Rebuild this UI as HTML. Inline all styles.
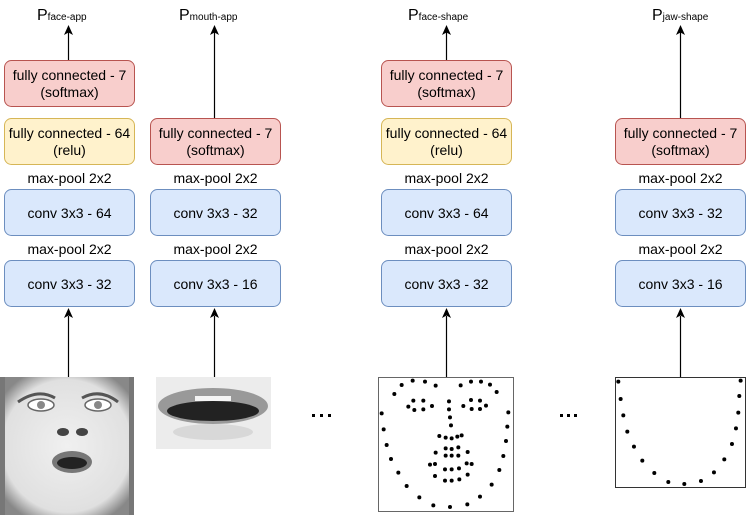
<!DOCTYPE html>
<html><head><meta charset="utf-8"><style>
html,body{margin:0;padding:0;background:#fff;}
svg{display:block;font-family:"Liberation Sans",Arial,sans-serif;}
</style></head><body>
<svg width="747" height="515" viewBox="0 0 747 515" xmlns="http://www.w3.org/2000/svg">
<defs>
<radialGradient id="fg" cx="0.5" cy="0.5" r="0.6"><stop offset="0" stop-color="#f0f0f0"/><stop offset="0.8" stop-color="#e0e0e0"/><stop offset="1" stop-color="#888"/></radialGradient>
</defs>
<g font-size="14" text-anchor="middle" fill="#000">
<rect x="4.5" y="60.5" width="130" height="46" rx="7" fill="#f8cecc" stroke="#b85450"/>
<text x="69.5" y="80">fully connected - 7</text><text x="69.5" y="97">(softmax)</text>
<rect x="4.5" y="118.5" width="130" height="46" rx="7" fill="#fff2cc" stroke="#d6b656"/>
<text x="69.5" y="138">fully connected - 64</text><text x="69.5" y="155">(relu)</text>
<text x="69.5" y="183">max-pool 2x2</text>
<rect x="4.5" y="189.5" width="130" height="46" rx="7" fill="#dae8fc" stroke="#6c8ebf"/>
<text x="69.5" y="218">conv 3x3 - 64</text>
<text x="69.5" y="254">max-pool 2x2</text>
<rect x="4.5" y="260.5" width="130" height="46" rx="7" fill="#dae8fc" stroke="#6c8ebf"/>
<text x="69.5" y="289">conv 3x3 - 32</text>
<rect x="150.5" y="118.5" width="130" height="46" rx="7" fill="#f8cecc" stroke="#b85450"/>
<text x="215.5" y="138">fully connected - 7</text><text x="215.5" y="155">(softmax)</text>
<text x="215.5" y="183">max-pool 2x2</text>
<rect x="150.5" y="189.5" width="130" height="46" rx="7" fill="#dae8fc" stroke="#6c8ebf"/>
<text x="215.5" y="218">conv 3x3 - 32</text>
<text x="215.5" y="254">max-pool 2x2</text>
<rect x="150.5" y="260.5" width="130" height="46" rx="7" fill="#dae8fc" stroke="#6c8ebf"/>
<text x="215.5" y="289">conv 3x3 - 16</text>
<rect x="381.5" y="60.5" width="130" height="46" rx="7" fill="#f8cecc" stroke="#b85450"/>
<text x="446.5" y="80">fully connected - 7</text><text x="446.5" y="97">(softmax)</text>
<rect x="381.5" y="118.5" width="130" height="46" rx="7" fill="#fff2cc" stroke="#d6b656"/>
<text x="446.5" y="138">fully connected - 64</text><text x="446.5" y="155">(relu)</text>
<text x="446.5" y="183">max-pool 2x2</text>
<rect x="381.5" y="189.5" width="130" height="46" rx="7" fill="#dae8fc" stroke="#6c8ebf"/>
<text x="446.5" y="218">conv 3x3 - 64</text>
<text x="446.5" y="254">max-pool 2x2</text>
<rect x="381.5" y="260.5" width="130" height="46" rx="7" fill="#dae8fc" stroke="#6c8ebf"/>
<text x="446.5" y="289">conv 3x3 - 32</text>
<rect x="615.5" y="118.5" width="130" height="46" rx="7" fill="#f8cecc" stroke="#b85450"/>
<text x="680.5" y="138">fully connected - 7</text><text x="680.5" y="155">(softmax)</text>
<text x="680.5" y="183">max-pool 2x2</text>
<rect x="615.5" y="189.5" width="130" height="46" rx="7" fill="#dae8fc" stroke="#6c8ebf"/>
<text x="680.5" y="218">conv 3x3 - 32</text>
<text x="680.5" y="254">max-pool 2x2</text>
<rect x="615.5" y="260.5" width="130" height="46" rx="7" fill="#dae8fc" stroke="#6c8ebf"/>
<text x="680.5" y="289">conv 3x3 - 16</text>
</g>
<g font-size="16">
<text x="37" y="20">P<tspan font-size="10">face-app</tspan></text>
<text x="179" y="20">P<tspan font-size="10">mouth-app</tspan></text>
<text x="408" y="20">P<tspan font-size="10">face-shape</tspan></text>
<text x="652" y="20">P<tspan font-size="10">jaw-shape</tspan></text>
</g>
<g stroke="#000" stroke-width="1.2" fill="none">
<line x1="68.5" y1="60" x2="68.5" y2="32"/>
<line x1="214.5" y1="118" x2="214.5" y2="32"/>
<line x1="446.5" y1="60" x2="446.5" y2="32"/>
<line x1="680.5" y1="118" x2="680.5" y2="32"/>
<line x1="68.5" y1="377" x2="68.5" y2="316"/>
<line x1="214.5" y1="377" x2="214.5" y2="316"/>
<line x1="446.5" y1="377" x2="446.5" y2="316"/>
<line x1="680.5" y1="377" x2="680.5" y2="316"/>
</g>
<g fill="#000">
<path d="M68.5,25 L73,35 L68.5,32.5 L64,35 Z"/>
<path d="M214.5,25 L219,35 L214.5,32.5 L210,35 Z"/>
<path d="M446.5,25 L451,35 L446.5,32.5 L442,35 Z"/>
<path d="M680.5,25 L685,35 L680.5,32.5 L676,35 Z"/>
<path d="M68.5,308 L73,318 L68.5,315.5 L64,318 Z"/>
<path d="M214.5,308 L219,318 L214.5,315.5 L210,318 Z"/>
<path d="M446.5,308 L451,318 L446.5,315.5 L442,318 Z"/>
<path d="M680.5,308 L685,318 L680.5,315.5 L676,318 Z"/>
</g>
<rect x="0" y="377" width="134" height="138" fill="url(#fg)"/>
<rect x="0" y="377" width="5" height="138" fill="#777"/><rect x="129" y="377" width="5" height="138" fill="#777"/>
<path d="M18,402 Q38,388 55,398" stroke="#555" stroke-width="3" fill="none"/>
<path d="M82,398 Q100,388 118,402" stroke="#555" stroke-width="3" fill="none"/>
<ellipse cx="41" cy="405" rx="13" ry="6" fill="#fff" stroke="#666" stroke-width="1.5"/><circle cx="41" cy="405" r="4" fill="#888"/>
<ellipse cx="98" cy="405" rx="13" ry="6" fill="#fff" stroke="#666" stroke-width="1.5"/><circle cx="98" cy="405" r="4" fill="#888"/>
<ellipse cx="63" cy="432" rx="6" ry="4" fill="#444"/><ellipse cx="82" cy="432" rx="6" ry="4" fill="#444"/>
<ellipse cx="72" cy="462" rx="20" ry="11" fill="#777"/><ellipse cx="72" cy="463" rx="15" ry="6" fill="#222"/>
<rect x="156" y="377" width="115" height="72" fill="#ececec"/>
<ellipse cx="213" cy="406" rx="55" ry="18" fill="#999"/>
<ellipse cx="213" cy="411" rx="46" ry="10" fill="#222"/>
<rect x="195" y="396" width="36" height="5" fill="#f4f4f4"/>
<ellipse cx="213" cy="432" rx="40" ry="8" fill="#ccc" opacity="0.6"/>
<g fill="#000"><rect x="312" y="414" width="3" height="3"/><rect x="320" y="414" width="3" height="3"/><rect x="328" y="414" width="3" height="3"/>
<rect x="560" y="414" width="3" height="3"/><rect x="567" y="414" width="3" height="3"/><rect x="574" y="414" width="3" height="3"/></g>
<rect x="378.5" y="377.5" width="135" height="134" fill="#fff" stroke="#666"/>
<rect x="615.5" y="377.5" width="130" height="110" fill="#fff" stroke="#333"/>
<g transform="translate(370,360) scale(0.3333)" fill="#000">
<circle cx="95" cy="75" r="6"/><circle cx="128" cy="62" r="6"/><circle cx="165" cy="65" r="6"/><circle cx="197" cy="77" r="6"/><circle cx="272" cy="76" r="6"/><circle cx="303" cy="65" r="6"/><circle cx="333" cy="65" r="6"/><circle cx="360" cy="74" r="6"/><circle cx="73" cy="102" r="6"/><circle cx="380" cy="96" r="6"/>
<circle cx="130" cy="122" r="6"/><circle cx="160" cy="122" r="6"/><circle cx="115" cy="140" r="6"/><circle cx="133" cy="150" r="6"/><circle cx="160" cy="148" r="6"/><circle cx="186" cy="138" r="6"/><circle cx="237" cy="124" r="6"/><circle cx="237" cy="148" r="6"/><circle cx="303" cy="120" r="6"/><circle cx="330" cy="122" r="6"/><circle cx="280" cy="138" r="6"/><circle cx="305" cy="147" r="6"/><circle cx="330" cy="147" r="6"/><circle cx="348" cy="137" r="6"/>
<circle cx="35" cy="160" r="6"/><circle cx="415" cy="157" r="6"/><circle cx="240" cy="172" r="6"/><circle cx="243" cy="196" r="6"/><circle cx="41" cy="208" r="6"/><circle cx="412" cy="200" r="6"/><circle cx="208" cy="228" r="6"/><circle cx="227" cy="233" r="6"/><circle cx="245" cy="235" r="6"/><circle cx="262" cy="230" r="6"/><circle cx="275" cy="226" r="6"/><circle cx="50" cy="255" r="6"/><circle cx="408" cy="243" r="6"/>
<circle cx="227" cy="265" r="6"/><circle cx="245" cy="267" r="6"/><circle cx="265" cy="262" r="6"/><circle cx="197" cy="278" r="6"/><circle cx="293" cy="276" r="6"/><circle cx="227" cy="287" r="6"/><circle cx="245" cy="287" r="6"/><circle cx="265" cy="287" r="6"/><circle cx="63" cy="297" r="6"/><circle cx="400" cy="288" r="6"/>
<circle cx="180" cy="314" r="6"/><circle cx="195" cy="312" r="6"/><circle cx="290" cy="310" r="6"/><circle cx="305" cy="312" r="6"/><circle cx="225" cy="328" r="6"/><circle cx="245" cy="328" r="6"/><circle cx="267" cy="325" r="6"/><circle cx="85" cy="338" r="6"/><circle cx="388" cy="330" r="6"/><circle cx="195" cy="348" r="6"/><circle cx="293" cy="344" r="6"/><circle cx="225" cy="362" r="6"/><circle cx="245" cy="362" r="6"/><circle cx="268" cy="358" r="6"/>
<circle cx="110" cy="378" r="6"/><circle cx="365" cy="374" r="6"/><circle cx="148" cy="412" r="6"/><circle cx="330" cy="410" r="6"/><circle cx="190" cy="436" r="6"/><circle cx="240" cy="441" r="6"/><circle cx="292" cy="433" r="6"/>
<circle cx="745" cy="65" r="6"/><circle cx="752" cy="117" r="6"/><circle cx="760" cy="166" r="6"/><circle cx="772" cy="215" r="6"/><circle cx="792" cy="260" r="6"/><circle cx="817" cy="302" r="6"/><circle cx="853" cy="339" r="6"/><circle cx="895" cy="366" r="6"/><circle cx="943" cy="372" r="6"/><circle cx="993" cy="363" r="6"/><circle cx="1032" cy="337" r="6"/><circle cx="1063" cy="298" r="6"/><circle cx="1086" cy="252" r="6"/><circle cx="1098" cy="205" r="6"/><circle cx="1105" cy="158" r="6"/><circle cx="1108" cy="108" r="6"/><circle cx="1112" cy="62" r="6"/>
</g>
</svg>
</body></html>
